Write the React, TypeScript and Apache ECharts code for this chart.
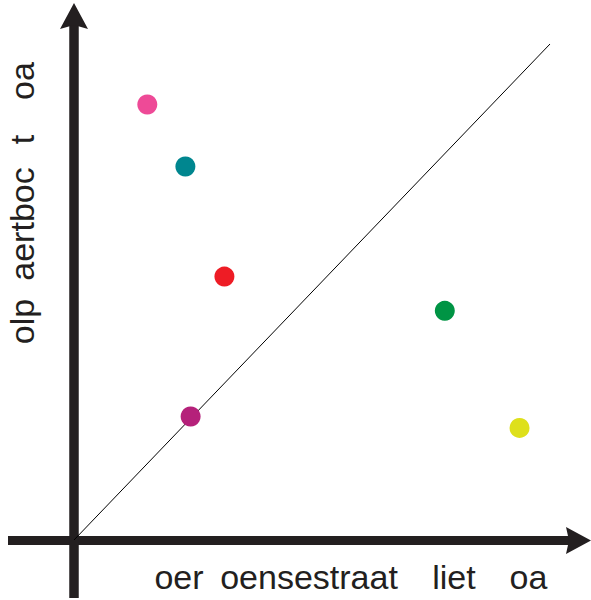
import React, { useEffect, useRef } from "react";
import * as echarts from "echarts";

// Scatter points (x, y in axis units 0–100)
const pointNames = ["pink", "teal", "red", "magenta", "green", "yellow"];
const pointX = [15.4, 23.4, 31.6, 24.5, 77.9, 93.6];
const pointY = [87.8, 75.3, 53.1, 24.9, 46.2, 22.6];
const pointColors = ["#EE4A97", "#00868F", "#EE1C25", "#B5217A", "#009444", "#DEE01B"];

// Diagonal reference line
const diagonalX = [0, 100];
const diagonalY = [0, 100];

// Axis label words
const xLabelWords = ["oer", "oensestraat", "liet", "oa"];
const yLabelWords = ["olp", "aertboc", "t", "oa"];

const INK = "#231F20";

export default function App() {
  const ref = useRef<HTMLDivElement>(null);

  useEffect(() => {
    if (!ref.current) return;
    const chart = echarts.init(ref.current, null, { renderer: "svg" });

    const xCenters = [179, 309, 454, 528.5];
    const yCenters = [321.5, 224, 139.5, 81];
    const font = "Liberation Sans";
    const fs = 34;

    const graphics: any[] = [
      { type: "line", z: 1, shape: { x1: 8, y1: 540.5, x2: 572, y2: 540.5 }, style: { stroke: INK, lineWidth: 9 } },
      { type: "line", z: 1, shape: { x1: 74, y1: 598, x2: 74, y2: 24 }, style: { stroke: INK, lineWidth: 9.5 } },
      { type: "polygon", z: 1, shape: { points: [[74, 3], [88, 29], [74, 25], [60, 29]] }, style: { fill: INK } },
      { type: "polygon", z: 1, shape: { points: [[591, 540.5], [566, 527], [569, 540.5], [566, 554]] }, style: { fill: INK } },
    ];
    xLabelWords.forEach((w, i) => {
      graphics.push({
        type: "text",
        x: xCenters[i],
        y: 577,
        style: { text: w, fill: INK, font: `${fs}px '${font}'`, textAlign: "center", textVerticalAlign: "middle" },
      });
    });
    yLabelWords.forEach((w, i) => {
      graphics.push({
        type: "text",
        x: 22,
        y: yCenters[i],
        rotation: Math.PI / 2,
        style: { text: w, fill: INK, font: `${fs}px '${font}'`, textAlign: "center", textVerticalAlign: "middle" },
      });
    });

    chart.setOption({
      animation: false,
      backgroundColor: "#ffffff",
      grid: { left: 74, top: 44, width: 476, height: 496 },
      xAxis: { type: "value", min: 0, max: 100, show: false },
      yAxis: { type: "value", min: 0, max: 100, show: false },
      graphic: graphics,
      series: [
        {
          type: "line",
          data: diagonalX.map((x, i) => [x, diagonalY[i]]),
          symbol: "none",
          lineStyle: { color: "#000000", width: 1 },
          z: 2,
        },
        {
          type: "scatter",
          symbolSize: 20,
          z: 3,
          data: pointX.map((x, i) => ({
            name: pointNames[i],
            value: [x, pointY[i]],
            itemStyle: { color: pointColors[i], opacity: 1 },
          })),
        },
      ],
    });

    return () => chart.dispose();
  }, []);

  return <div ref={ref} style={{ width: 591, height: 600, position: "absolute", left: 0, top: 0 }} />;
}
